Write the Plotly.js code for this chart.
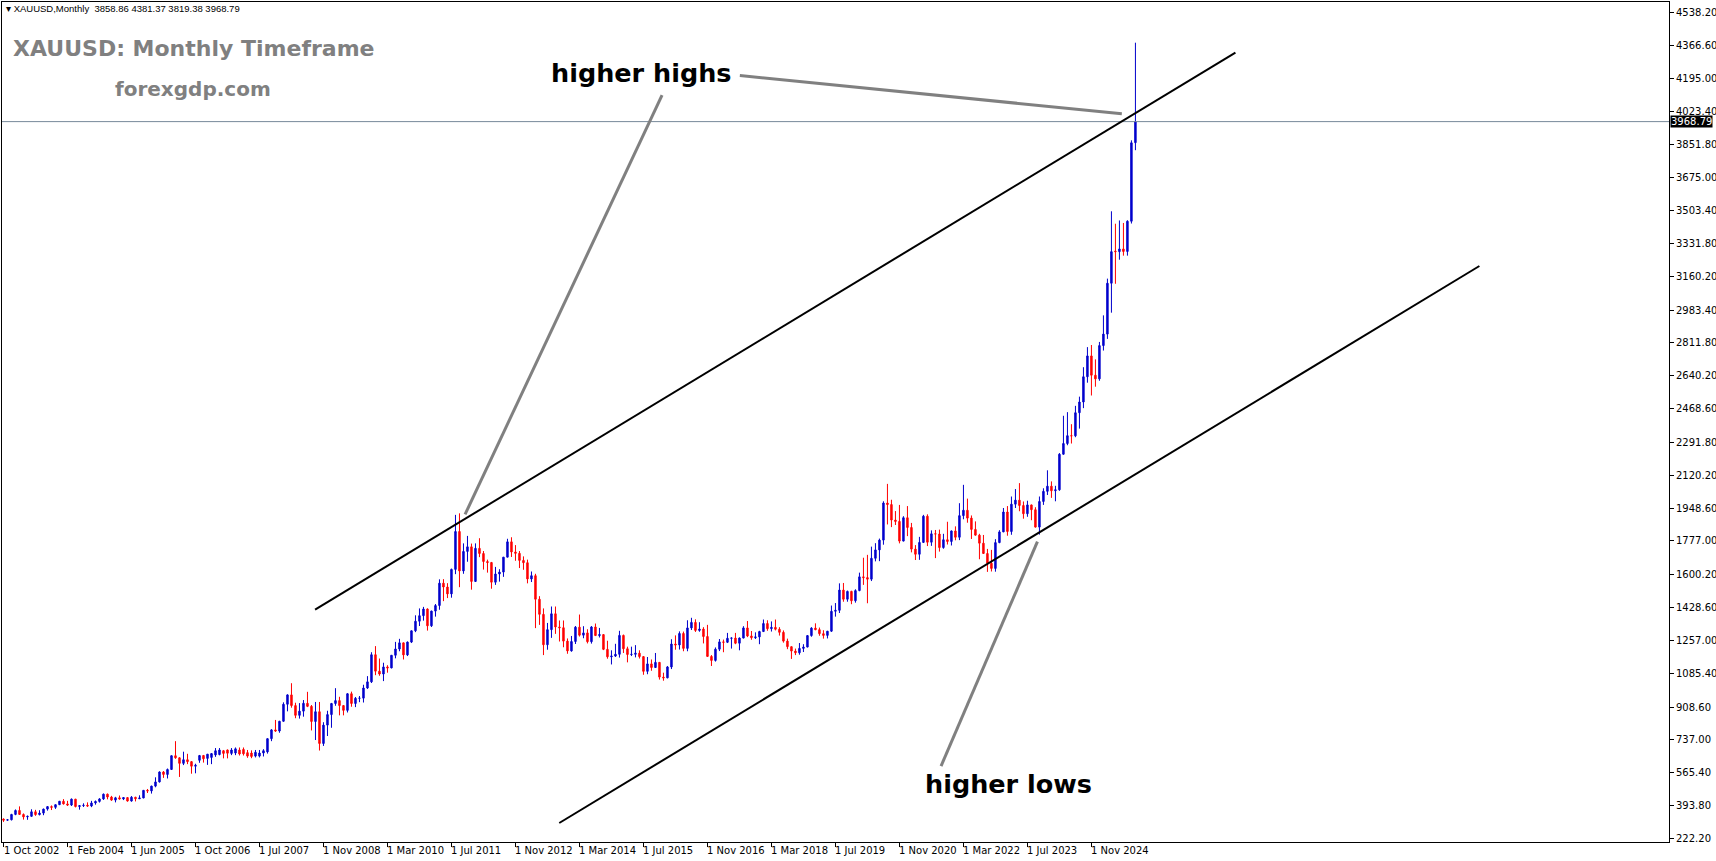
<!DOCTYPE html>
<html><head><meta charset="utf-8">
<script src="https://cdn.plot.ly/plotly-3.0.1.min.js"></script>
<style>html,body{margin:0;padding:0;background:#fff;}#chart{width:1716px;height:861px;}</style>
</head><body><div id="chart"></div>
<script>
const symbol = "XAUUSD";
const timeframe = "Monthly";
const chartTitle = "XAUUSD: Monthly Timeframe";
const siteName = "forexgdp.com";
const noteHighs = "higher highs";
const noteLows = "higher lows";

// Monthly bars (broker history), oldest first: Oct 2002 ... Oct 2025
const open = [
323,317,319,
347,368,347,334,337,361,346,354,375,388,384,398,
416,402,396,427,388,393,395,391,407,415,428,453,
438,422,434,428,435,417,437,429,433,473,470,495,
517,569,556,582,654,643,614,633,623,
599,630,655,640,645,658,660,680,684,666,668,684,687,670,668,652,
652,668,674,743,789,783,
834,923,972,916,865,887,928,912,833,884,718,814,
869,927,942,916,891,978,927,954,955,1008,1040,1182,
1096,1081,1118,1113,1179,1212,1244,1181,1248,1307,1357,1386,
1421,1333,1410,1439,1556,1536,1500,1628,1826,1620,1722,1746,
1565,1738,1711,1669,1664,1561,1604,1614,1692,1772,1719,1712,
1675,1663,1578,1595,1472,1393,1234,1313,1396,1327,1323,1253,
1202,1251,1326,1284,1296,1250,1327,1282,1287,1210,1171,1175,
1184,1283,1213,1183,1184,1190,1172,1095,1134,1115,1142,1065,
1061,1118,1238,1233,1293,1215,1322,1351,1309,1316,1277,1173,
1152,1211,1249,1247,1268,1269,1242,1269,1322,1280,1271,1275,
1303,1345,1318,1325,1315,1299,1253,1224,1201,1192,1215,1222,
1282,1321,1313,1292,1283,1305,1409,1414,1520,1472,1513,1464,
1517,1589,1585,1577,1686,1730,1781,1975,1967,1886,1879,1776,
1898,1847,1734,1707,1769,1906,1770,1814,1813,1742,1783,1774,
1829,1796,1909,1937,1896,1837,1807,1765,1711,1660,1633,1768,
1824,1928,1826,1969,1990,1962,1919,1965,1940,1849,1983,2036,
2063,2039,2044,2230,2286,2327,2326,2447,2503,2635,2744,2643,
2624,2798,2858,3124,3292,3289,3303,3290,3448,3858.86
];
const high = [
326,322,350,
373,389,352,341,374,371,369,377,390,394,398,417,
427,418,430,428,395,405,410,418,420,432,456,456,
444,439,446,438,437,443,439,447,474,480,497,541,
572,574,587,655,730,646,675,664,626,
612,658,658,663,668,694,694,684,686,694,697,697,697,684,682,684,
684,688,745,793,841,836,
933,975,1033,931,929,945,988,919,935,935,829,889,
930,1007,962,917,981,989,961,966,1025,1070,1195,1227,
1162,1140,1127,1180,1249,1265,1245,1251,1308,1388,1424,1432,
1424,1412,1447,1576,1577,1556,1632,1913,1921,1764,1803,1763,
1764,1791,1724,1679,1667,1641,1629,1692,1788,1796,1755,1724,
1696,1679,1617,1605,1488,1424,1348,1434,1434,1361,1361,1267,
1280,1332,1392,1331,1315,1332,1345,1322,1290,1255,1205,1239,
1307,1287,1224,1224,1232,1205,1174,1170,1157,1191,1143,1088,
1123,1263,1283,1304,1303,1362,1375,1367,1352,1326,1338,1180,
1220,1264,1261,1296,1272,1296,1272,1331,1358,1306,1299,1307,
1366,1362,1356,1366,1326,1309,1266,1224,1214,1243,1237,1284,
1326,1346,1324,1310,1306,1439,1452,1555,1557,1517,1516,1524,
1611,1689,1704,1747,1765,1789,1984,2075,1992,1933,1965,1906,
1959,1871,1755,1798,1913,1916,1832,1834,1836,1814,1877,1831,
1853,1974,2070,1998,1910,1879,1814,1808,1735,1730,1786,1833,
1949,1959,2009,2048,2079,1983,1987,1966,1953,2009,2052,2146,
2088,2065,2236,2431,2450,2387,2483,2531,2685,2790,2801,2726,
2817,2956,3148,3500,3435,3452,3439,3453,3871,4381.37
];
const low = [
308,314,316,
343,344,320,319,336,340,342,343,367,370,376,396,
399,391,391,384,372,386,387,385,398,409,423,426,
418,410,425,422,414,414,415,428,432,459,456,489,
514,538,535,580,638,543,605,610,560,
562,617,618,606,610,648,656,640,640,657,657,655,655,643,641,645,
645,650,665,730,779,774,
832,886,905,850,848,858,908,786,736,681,705,757,
800,915,865,865,880,910,908,934,932,1003,1034,1075,
1072,1044,1088,1111,1163,1200,1157,1175,1243,1300,1332,1360,
1308,1327,1381,1417,1462,1478,1480,1603,1535,1605,1668,1522,
1562,1692,1627,1611,1527,1547,1564,1589,1692,1693,1673,1635,
1626,1555,1562,1321,1338,1180,1208,1270,1291,1251,1221,1187,
1198,1238,1277,1268,1241,1240,1281,1272,1206,1161,1131,1170,
1167,1191,1142,1175,1168,1162,1077,1080,1098,1113,1052,1046,
1059,1107,1208,1209,1200,1200,1311,1301,1302,1241,1171,1123,
1146,1201,1195,1243,1214,1237,1205,1268,1274,1260,1264,1237,
1302,1307,1303,1309,1282,1245,1211,1160,1180,1182,1196,1221,
1276,1310,1281,1266,1267,1301,1381,1400,1459,1459,1446,1454,
1514,1547,1451,1567,1670,1671,1757,1863,1849,1860,1764,1775,
1802,1717,1677,1678,1766,1750,1751,1687,1721,1736,1758,1753,
1780,1781,1890,1872,1787,1805,1681,1709,1615,1617,1616,1765,
1823,1804,1809,1949,1932,1893,1903,1885,1847,1810,1965,2017,
2002,1984,2039,2228,2277,2286,2319,2364,2471,2604,2537,2583,
2614,2772,2833,2970,3121,3247,3268,3268,3436,3819.38
];
const close = [
317,319,347,
368,347,334,337,361,346,354,375,388,384,398,416,
402,396,427,388,393,395,391,407,415,428,453,438,
422,434,428,435,417,437,429,433,473,470,495,517,
569,556,582,654,643,614,633,623,599,
604,655,638,662,665,680,684,666,667,684,690,663,664,652,650,672,
668,680,743,789,783,834,
923,972,916,865,887,928,912,833,884,718,814,869,
927,942,916,891,978,927,954,955,1008,1040,1182,1096,
1081,1118,1113,1179,1212,1244,1181,1248,1307,1357,1386,1421,
1333,1410,1439,1556,1536,1500,1628,1826,1620,1722,1746,1565,
1738,1711,1669,1664,1561,1604,1614,1692,1772,1719,1712,1675,
1663,1578,1595,1472,1393,1234,1313,1396,1327,1323,1253,1202,
1251,1326,1284,1296,1250,1327,1282,1287,1210,1171,1175,1184,
1283,1213,1183,1184,1190,1172,1095,1134,1115,1142,1065,1061,
1118,1238,1233,1293,1215,1322,1351,1309,1316,1277,1173,1152,
1211,1249,1247,1268,1269,1242,1269,1322,1280,1271,1275,1303,
1345,1318,1325,1315,1299,1253,1224,1201,1192,1215,1222,1282,
1321,1313,1292,1283,1305,1409,1414,1520,1472,1513,1464,1517,
1589,1585,1577,1686,1730,1781,1975,1967,1886,1879,1776,1898,
1847,1734,1707,1769,1906,1770,1814,1813,1742,1783,1774,1829,
1796,1909,1937,1896,1837,1807,1765,1711,1660,1633,1768,1824,
1928,1826,1969,1990,1962,1919,1965,1940,1849,1983,2036,2063,
2039,2044,2230,2286,2327,2326,2447,2503,2635,2744,2643,2624,
2798,2858,3124,3289,3289,3303,3290,3448,3858,3968.79
];

// time-axis labels (one every 16 bars, as printed by the terminal)
const timeLabels = ["1 Oct 2002","1 Feb 2004","1 Jun 2005","1 Oct 2006","1 Jul 2007","1 Nov 2008",
  "1 Mar 2010","1 Jul 2011","1 Nov 2012","1 Mar 2014","1 Jul 2015","1 Nov 2016","1 Mar 2018",
  "1 Jul 2019","1 Nov 2020","1 Mar 2022","1 Jul 2023","1 Nov 2024"];
// price-axis labels
const priceLabels = [4538.20,4366.60,4195.00,4023.40,3851.80,3675.00,3503.40,3331.80,3160.20,2983.40,
  2811.80,2640.20,2468.60,2291.80,2120.20,1948.60,1777.00,1600.20,1428.60,1257.00,1085.40,908.60,
  737.00,565.40,393.80,222.20];

// drawn objects anchored at [bar, price]
const upperChannel = [[77.9,1417.8],[308.0,4330.0]];
const lowerChannel = [[138.95,302.2],[369.0,3214.0]];
const pointerHighs1 = [[184.1,4209.9],[279.6,4009.7]];
const pointerHighs2 = [[164.65,4106.9],[115.4,1915.5]];
const pointerLows = [[258.5,1772.8],[234.4,599.7]];

const barsPerLabel = 16;
const n = close.length;
const bars = close.map((_, i) => i);
const last = n - 1;

const W = 1716, H = 861, ML = 2, MR = 47, MT = 2, MB = 19;
const PW = W - ML - MR, PH = H - MT - MB;
const px = x => (x - ML) / PW;
const py = y => (H - MB - y) / PH;

const seg = (p, color, width) => ({type:'line', xref:'x', yref:'y', x0:p[0][0], y0:p[0][1], x1:p[1][0], y1:p[1][1], line:{color, width}});

const axisFont = {family:'DejaVu Sans', size:10, color:'#000'};

const annotations = [
  {xref:'paper', yref:'paper', x:px(11), y:py(48), xanchor:'left', yanchor:'middle', showarrow:false,
   text:'<b>'+chartTitle+'</b>', font:{family:'DejaVu Sans', size:22, color:'#808080'}},
  {xref:'paper', yref:'paper', x:px(113), y:py(89), xanchor:'left', yanchor:'middle', showarrow:false,
   text:'<b>'+siteName+'</b>', font:{family:'DejaVu Sans', size:20, color:'#808080'}},
  {xref:'paper', yref:'paper', x:px(549), y:py(73), xanchor:'left', yanchor:'middle', showarrow:false,
   text:'<b>'+noteHighs+'</b>', font:{family:'DejaVu Sans', size:25.5, color:'#000'}},
  {xref:'paper', yref:'paper', x:px(923), y:py(784), xanchor:'left', yanchor:'middle', showarrow:false,
   text:'<b>'+noteLows+'</b>', font:{family:'DejaVu Sans', size:25.5, color:'#000'}},
  {xref:'paper', yref:'paper', x:px(4), y:py(9), xanchor:'left', yanchor:'middle', showarrow:false,
   text:'▾ '+symbol+','+timeframe+'  '+[open[last],high[last],low[last],close[last]].map(v=>v.toFixed(2)).join(' '),
   font:{family:'Liberation Sans', size:9.5, color:'#000'}},
  {xref:'paper', yref:'y', x:1, y:close[last], xanchor:'left', yanchor:'middle', xshift:1, showarrow:false,
   text:close[last].toFixed(2), bgcolor:'#000', borderpad:0, font:{family:'DejaVu Sans', size:10, color:'#fff'}}
];
timeLabels.forEach((t, i) => annotations.push({
  xref:'x', yref:'paper', x:i*barsPerLabel, y:0, xanchor:'left', yanchor:'top', yshift:-1, xshift:-2,
  showarrow:false, text:t, font:axisFont
}));

const shapes = [
  {type:'line', xref:'paper', yref:'y', x0:0, x1:1, y0:close[last], y1:close[last], line:{color:'#778899', width:1}},
  seg(upperChannel, '#000', 2),
  seg(lowerChannel, '#000', 2),
  seg(pointerHighs1, '#808080', 3),
  seg(pointerHighs2, '#808080', 3),
  seg(pointerLows, '#808080', 3)
];

const trace = {
  type:'candlestick', x:bars, open, high, low, close,
  increasing:{line:{color:'#0000CC', width:1}, fillcolor:'#0000CC'},
  decreasing:{line:{color:'#FF0000', width:1}, fillcolor:'#FF0000'},
  whiskerwidth:0, hoverinfo:'skip', showlegend:false
};

const layout = {
  width:W, height:H, margin:{l:ML, r:MR, t:MT, b:MB, pad:0},
  paper_bgcolor:'#fff', plot_bgcolor:'#fff', showlegend:false, boxgap:0.5,
  xaxis:{range:[-0.375, 416.4], rangeslider:{visible:false}, showgrid:false, zeroline:false,
    showline:true, mirror:true, linecolor:'#000', linewidth:1,
    ticks:'outside', ticklen:4, tickcolor:'#000', tickvals:timeLabels.map((_, i) => i*barsPerLabel),
    showticklabels:false, fixedrange:true},
  yaxis:{range:[202.9, 4594.1], side:'right', showgrid:false, zeroline:false,
    showline:true, mirror:true, linecolor:'#000', linewidth:1,
    ticks:'outside', ticklen:4, tickcolor:'#000', tickvals:priceLabels,
    ticktext:priceLabels.map(v => v.toFixed(2)), tickfont:axisFont, fixedrange:true},
  annotations, shapes
};

Plotly.newPlot('chart', [trace], layout, {staticPlot:true, displayModeBar:false});
</script></body></html>
